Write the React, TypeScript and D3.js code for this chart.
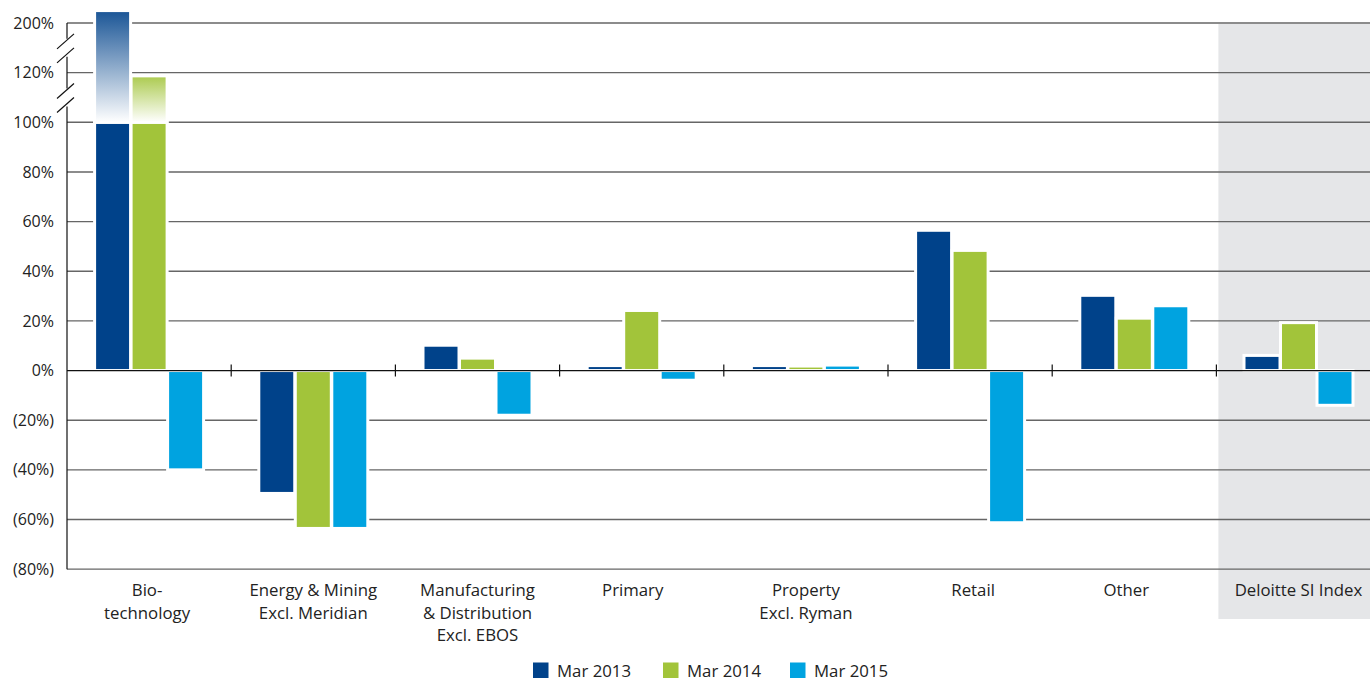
import React from 'react';
import * as d3 from 'd3';

const categories: string[][] = [
  ['Bio-', 'technology'],
  ['Energy & Mining', 'Excl. Meridian'],
  ['Manufacturing', '& Distribution', 'Excl. EBOS'],
  ['Primary'],
  ['Property', 'Excl. Ryman'],
  ['Retail'],
  ['Other'],
  ['Deloitte SI Index'],
];
const seriesNames = ['Mar 2013', 'Mar 2014', 'Mar 2015'];
const mar2013 = [220, -49.5, 10.2, 2.0, 2.0, 56.5, 30.3, 6.1];
const mar2014 = [118.7, -63.6, 5.0, 24.2, 1.8, 48.4, 21.1, 19.3];
const mar2015 = [-40, -63.6, -18.0, -3.9, 2.2, -61.3, 26.1, -14.0];
const yTicks = [200, 120, 100, 80, 60, 40, 20, 0, -20, -40, -60, -80];
const tickLabels = ['200%', '120%', '100%', '80%', '60%', '40%', '20%', '0%', '(20%)', '(40%)', '(60%)', '(80%)'];
const breakAfter = [0, 1]; // axis breaks below tick index 0 and 1
const colors = ['#00428A', '#A2C43A', '#00A3E0'];
// layout-only horizontal nudge of a few category labels (as in the original)
const labelShift = [-2, 0, 0, -9, 0, 3, -8, 0];

const W = 1370;
const H = 680;
const FONT = "'Open Sans', 'Noto Sans', sans-serif";

export default function App() {
  const series = [mar2013, mar2014, mar2015];
  const x0 = 67;
  const bandW = 164.2;
  const x = d3.scaleBand<number>().domain(d3.range(categories.length)).range([x0, x0 + bandW * categories.length]).padding(0);
  const xs = d3.scaleBand<number>().domain([0, 1, 2]).range([-54.75, 54.75]).padding(0);
  const y = d3.scaleLinear().domain(yTicks).range(yTicks.map((_, i) => 23 + i * 49.65));
  const y0 = y(0);
  const barW = 36;
  const highlightX = x(7)! + 2;

  const bars: React.ReactNode[] = [];
  categories.forEach((_, ci) => {
    series.forEach((s, si) => {
      const v = s[ci];
      const cx = x(ci)! + x.bandwidth() / 2 + xs(si)! + (xs.bandwidth() - barW) / 2;
      const common = { x: cx, width: barW, stroke: '#fff', strokeWidth: 3 };
      if (v > 100) {
        bars.push(<rect key={`s${ci}-${si}`} {...common} y={y(100)} height={y0 - y(100)} fill={colors[si]} />);
        bars.push(<rect key={`g${ci}-${si}`} {...common} y={y(v)} height={y(100) - y(v)} fill={`url(#grad${si})`} />);
      } else if (v >= 0) {
        bars.push(<rect key={`p${ci}-${si}`} {...common} y={y(v)} height={y0 - y(v)} fill={colors[si]} />);
      } else {
        bars.push(<rect key={`n${ci}-${si}`} {...common} y={y0} height={y(v) - y0} fill={colors[si]} />);
      }
    });
  });

  const axisTop = y(yTicks[0]);
  const axisBottom = y(yTicks[yTicks.length - 1]);
  const breaks = breakAfter.map((i) => (y(yTicks[i]) + y(yTicks[i + 1])) / 2);
  const segs: [number, number][] = [];
  let start = axisTop;
  breaks.forEach((m) => {
    segs.push([start, m - 9]);
    start = m + 9;
  });
  segs.push([start, axisBottom]);

  const legendX = [533, 663, 790];

  return (
    <svg width={W} height={H} style={{ position: 'absolute', left: 0, top: 0, background: '#fff' }} fontFamily={FONT}>
      <defs>
        {colors.map((c, i) => (
          <linearGradient key={i} id={`grad${i}`} x1="0" y1="0" x2="0" y2="1">
            <stop offset="0%" stopColor={d3.interpolateRgb(c, '#fff')(0.1)} />
            <stop offset="100%" stopColor="#fff" />
          </linearGradient>
        ))}
      </defs>
      <rect x={highlightX} y={24} width={W - highlightX} height={619 - 24} fill="#E5E6E8" />
      {yTicks.map((t) =>
        t === 0 ? null : (
          <line key={t} x1={x0} x2={W} y1={y(t)} y2={y(t)} stroke="#666" strokeWidth={1.4} />
        )
      )}
      {bars}
      <line x1={x0} x2={W} y1={y0} y2={y0} stroke="#111" strokeWidth={1.3} />
      {d3.range(1, categories.length).map((k) => (
        <line key={k} x1={x(k)!} x2={x(k)!} y1={y0 - 6} y2={y0 + 6} stroke="#111" strokeWidth={1.2} />
      ))}
      {segs.map(([a, b], i) => (
        <line key={i} x1={x0} x2={x0} y1={a} y2={b} stroke="#111" strokeWidth={1.2} />
      ))}
      {breaks.map((m, i) => (
        <g key={i} stroke="#111" strokeWidth={1.2}>
          <line x1={57} y1={m + 1} x2={74} y2={m - 14} />
          <line x1={57} y1={m + 15} x2={74} y2={m} />
        </g>
      ))}
      {yTicks.map((t, i) => (
        <text key={t} x={54} y={y(t)} dy="0.35em" textAnchor="end" fontSize={16} fill="#222">
          {tickLabels[i]}
        </text>
      ))}
      {categories.map((lines, ci) => {
        const cx = x(ci)! + x.bandwidth() / 2 + labelShift[ci];
        return (
          <text key={ci} x={cx} textAnchor="middle" fontSize={16.8} fill="#222">
            {lines.map((l, li) => (
              <tspan key={li} x={cx} y={596 + li * 22.5}>
                {l}
              </tspan>
            ))}
          </text>
        );
      })}
      {seriesNames.map((n, i) => (
        <g key={n}>
          <rect x={legendX[i]} y={662.5} width={15.5} height={15.5} fill={colors[i]} />
          <text x={legendX[i] + 24} y={676.5} fontSize={16.8} fill="#222">
            {n}
          </text>
        </g>
      ))}
    </svg>
  );
}
